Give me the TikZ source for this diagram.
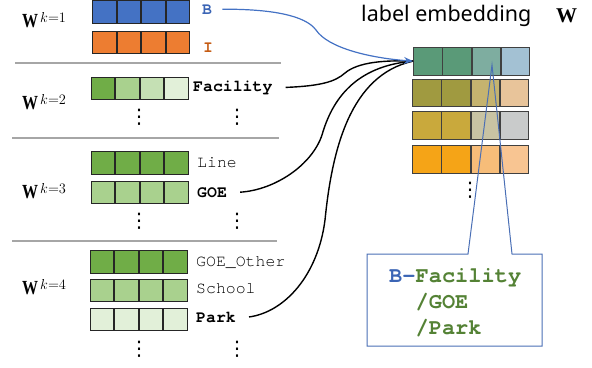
\documentclass[tikz,border=0pt]{standalone}
\usepackage{fontspec}
\usepackage{graphicx}
\setmonofont{texgyrecursor}[Extension=.otf,UprightFont=*-regular,BoldFont=*-bold]
\newfontfamily\labelsans{Noto Sans}
\newfontfamily\dotsfont{DejaVu Sans}
\newfontfamily\wfont{Liberation Serif}
\usetikzlibrary{arrows.meta}
\definecolor{cblue}{HTML}{4472C4}
\definecolor{corange}{HTML}{ED7D31}
\definecolor{gA}{HTML}{70AD47}
\definecolor{gB}{HTML}{A9D18E}
\definecolor{gC}{HTML}{C5E0B4}
\definecolor{gD}{HTML}{E2F0D9}
\definecolor{tblue}{HTML}{3B65B5}
\definecolor{torange}{HTML}{C55A11}
\definecolor{tgreen}{HTML}{548235}
\definecolor{sepgray}{HTML}{A6A6A6}
\definecolor{mA}{HTML}{5A9A78}
\definecolor{mB}{HTML}{7EADA0}
\definecolor{mC}{HTML}{A3C1D3}
\definecolor{mD}{HTML}{A09A40}
\definecolor{mE}{HTML}{C5B36F}
\definecolor{mF}{HTML}{E8C49A}
\definecolor{mG}{HTML}{C9A93C}
\definecolor{mH}{HTML}{C8C3A3}
\definecolor{mI}{HTML}{C9CBCB}
\definecolor{mJ}{HTML}{F5A417}
\definecolor{mK}{HTML}{F7BD79}
\definecolor{mL}{HTML}{F8C592}
\definecolor{callblue}{HTML}{4A6FB5}
\newcommand\Wsym{\scalebox{0.8}[1]{\wfont\bfseries\fontsize{20}{22}\selectfont W}}
\newcommand\Wlev[1]{\Wsym\kern2pt\raisebox{5pt}{\fontsize{14}{16}\selectfont$k{=}#1$}}
\tikzset{
  cell/.style={draw=black!85,line width=0.8pt,minimum width=23.75pt,minimum height=22.5pt,inner sep=0pt,anchor=north west},
  mcell/.style={draw=black!75,line width=0.8pt,minimum width=28.5pt,minimum height=27.5pt,inner sep=0pt,anchor=north west},
  lab/.style={font=\fontsize{16.5}{18}\selectfont\ttfamily,inner sep=0pt,anchor=base west},
  blab/.style={lab,font=\fontsize{16.5}{18}\selectfont\ttfamily\bfseries},
  wlab/.style={inner sep=0pt,anchor=base west},
  vd/.style={inner sep=0pt,font=\dotsfont\fontsize{20}{22}\selectfont},
  sep/.style={draw=sepgray,line width=1.3pt},
  conn/.style={draw=black,line width=1.4pt},
  calltext/.style={font=\fontsize{22}{26}\selectfont\ttfamily\bfseries,inner sep=0pt,anchor=base west,text=tgreen}
}
\newcommand\vecrow[7]{%
  \node[cell,fill=#4] (#1a) at (#2,#3) {};
  \node[cell,fill=#5] (#1b) at (#1a.north east) {};
  \node[cell,fill=#6] (#1c) at (#1b.north east) {};
  \node[cell,fill=#7] (#1d) at (#1c.north east) {};
}
\newcommand\matrow[7]{%
  \node[mcell,fill=#4] (#1a) at (#2,#3) {};
  \node[mcell,fill=#5] (#1b) at (#1a.north east) {};
  \node[mcell,fill=#6] (#1c) at (#1b.north east) {};
  \node[mcell,fill=#7] (#1d) at (#1c.north east) {};
}
\begin{document}
\begin{tikzpicture}[x=1pt,y=-1pt]
\useasboundingbox (0,0) rectangle (592,367);
% level 1
\vecrow{rB}{92}{0}{cblue}{cblue}{cblue}{cblue}
\vecrow{rI}{92}{30.5}{corange}{corange}{corange}{corange}
\node[wlab] (w1) at (22,27) {\Wlev{1}};
\node[blab,text=tblue] (tB) at (202,14) {B};
\node[blab,text=torange] (tI) at (203,52) {I};
\draw[sep] (15,63) -- (281,63);
% level 2
\vecrow{rF}{90.5}{76.5}{gA}{gB}{gC}{gD}
\node[wlab] (w2) at (22,109) {\Wlev{2}};
\node[blab] (tFac) at (193,91) {Facility};
\node[vd] (d2a) at (139,117) {⋮};
\node[vd] (d2b) at (237,117) {⋮};
\draw[sep] (12,138) -- (279,138);
% level 3
\vecrow{rL}{90.5}{151}{gA}{gA}{gA}{gA}
\vecrow{rG}{90.5}{180.5}{gB}{gB}{gB}{gB}
\node[wlab] (w3) at (22,198) {\Wlev{3}};
\node[lab] (tLine) at (197,167) {Line};
\node[blab] (tGOE) at (197,197) {GOE};
\node[vd] (d3a) at (139,221) {⋮};
\node[vd] (d3b) at (237,221) {⋮};
\draw[sep] (12,241) -- (277,241);
% level 4
\vecrow{rO}{89.5}{250}{gA}{gA}{gA}{gA}
\vecrow{rS}{89.5}{278.5}{gB}{gB}{gB}{gB}
\vecrow{rP}{89.5}{307.5}{gD}{gD}{gD}{gD}
\node[wlab] (w4) at (22,294) {\Wlev{4}};
\node[lab] (tOth) at (196,266) {GOE\_Other};
\node[lab] (tSch) at (196,293) {School};
\node[blab] (tPark) at (196,322) {Park};
\node[vd] (d4a) at (139,349) {⋮};
\node[vd] (d4b) at (237,349) {⋮};
% label embedding matrix
\node[inner sep=0pt,anchor=base west] (title) at (361,21) {\labelsans\fontsize{21.5}{24}\selectfont label embedding};
\node[inner sep=0pt,anchor=base west] (wT) at (556,22) {\wfont\bfseries\fontsize{21}{22}\selectfont W};
\matrow{m1}{413}{47}{mA}{mA}{mB}{mC}
\matrow{m2}{412}{78.5}{mD}{mD}{mE}{mF}
\matrow{m3}{412}{111}{mG}{mG}{mH}{mI}
\matrow{m4}{412}{145}{mJ}{mJ}{mK}{mL}
\node[vd] (dm) at (470,190) {⋮};
% callout
\coordinate (tip) at (492,65);
\draw[callblue,line width=1pt,line join=miter] (367,254) -- (468,254) -- (tip) -- (512,254) -- (542,254) -- (542,346) -- (367,346) -- cycle;
\node[calltext] (c1) at (389,282) {\textcolor{tblue}{B-}Facility};
\node[calltext] (c2) at (389,308.5) {\phantom{B-}/GOE};
\node[calltext] (c3) at (389,334) {\phantom{B-}/Park};
% connectors
\draw[conn] ([xshift=13pt]tFac.east) .. controls (320,86) and (335,82) .. (345,73) .. controls (358,62) and (385,60) .. (m1a.west);
\draw[conn] ([xshift=13pt]tGOE.east) .. controls (275,190) and (312,165) .. (322,135) .. controls (332,100) and (355,66) .. (m1a.west);
\draw[conn] ([xshift=13pt]tPark.east) .. controls (285,312) and (318,275) .. (325,220) .. controls (332,150) and (350,75) .. (m1a.west);
\draw[cblue,line width=1.2pt,-{Stealth[length=9pt,width=7pt]}] ([xshift=10pt]tB.east) .. controls (270,9) and (305,15) .. (316,30) .. controls (328,48) and (370,58) .. (m1a.west);
\end{tikzpicture}
\end{document}
